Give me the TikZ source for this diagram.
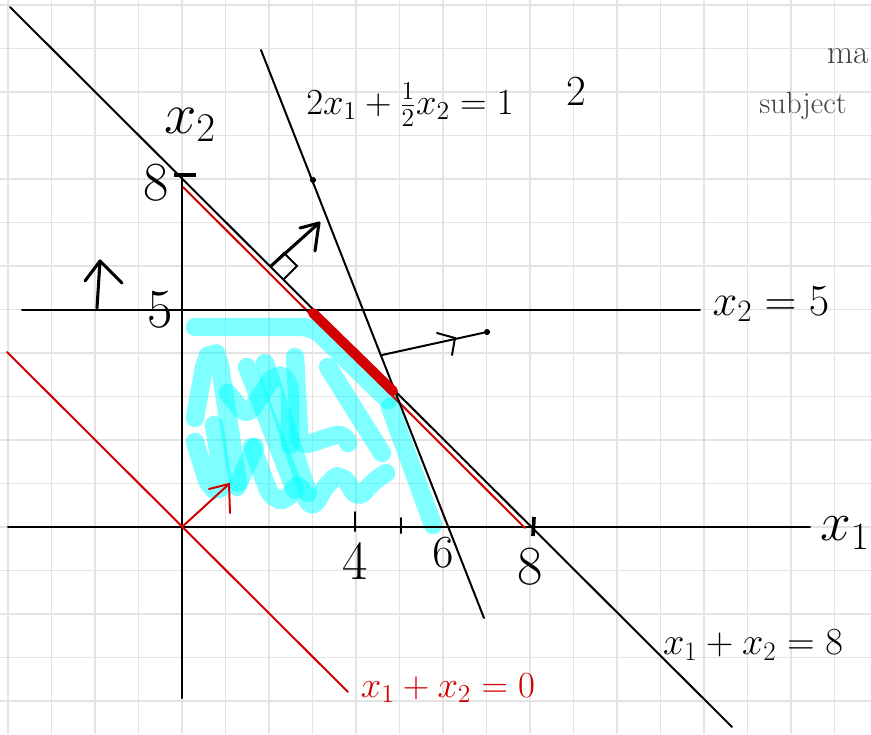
\RequirePackage{fix-cm}
\documentclass[tikz,border=0pt]{standalone}
\usetikzlibrary{arrows.meta}
\definecolor{penred}{RGB}{210,0,0}
\definecolor{hicyan}{RGB}{0,255,255}
\begin{document}
\begin{tikzpicture}[x=0.022936cm,y=-0.022936cm,
  gridline/.style={draw=black!11,line width=0.75pt},
  blk/.style={draw=black,line width=1.3pt,line cap=round},
  thickblk/.style={draw=black,line width=2pt,line cap=round,line join=round},
  redl/.style={draw=penred,line width=1.3pt,line cap=round},
  hl/.style={draw=hicyan,opacity=0.5,line width=12pt,line cap=round,line join=round,rounded corners=7pt},
  lbl/.style={inner sep=0pt,font=\fontsize{24}{28}\selectfont},
  dotm/.style={circle,fill=black,inner sep=0pt,minimum size=4pt}
]
\useasboundingbox (0,0) rectangle (871,734);
\begin{scope}
\clip (0,0) rectangle (871,734);
% grid
\foreach \i in {-4,...,16} \draw[gridline] ({182+43.5*\i},0) -- ++(0,734);
\foreach \j in {-5,...,12} \draw[gridline] (0,{527-43.5*\j}) -- ++(871,0);

% named points
\coordinate (O) at (182,527);
\coordinate (ytop) at (182,175);
\coordinate (ybot) at (182,698);
\coordinate (xl) at (8,527);
\coordinate (xr) at (810,527);
\coordinate (a1) at (10,7);
\coordinate (a2) at (732,727);
\coordinate (r1) at (183,187);
\coordinate (r2) at (525,528);
\coordinate (z1) at (7,352);
\coordinate (z2) at (348,692);
\coordinate (s1) at (261,50);
\coordinate (s2) at (484,618);
\coordinate (h1) at (22,310);
\coordinate (h2) at (700,310);
\coordinate (p1) at (313,313);
\coordinate (p2) at (393,391);

% cyan highlight scribble
\draw[hl] (195,327) -- (313,327) -- (388,400);
\draw[hl] (390,407) -- (433,525);
\draw[hl] (195,418) -- (206,356) -- (218,353) -- (238,483);
\draw[hl] (195,442) -- (210,490) -- (224,488) -- (214,425);
\draw[hl] (237,487) -- (255,447);
\draw[hl] (247,367) -- (295,490);
\draw[hl] (265,363) -- (308,493);
\draw[hl] (228,393) -- (247,417) -- (275,373) -- (290,380) -- (290,445);
\draw[hl] (295,357) -- (300,447) -- (320,440) -- (345,432) -- (348,443);
\draw[hl] (328,367) -- (382,453);
\draw[hl] (252,447) -- (272,500) -- (290,500) -- (297,480) -- (312,510) -- (328,482) -- (342,473) -- (358,500) -- (372,482) -- (386,473);

% axes
\draw[blk] (xl) -- (xr);
\draw[blk] (ytop) -- (ybot);

% lines
\draw[blk] (a1) -- (a2);
\draw[redl] (r1) -- (r2);
\draw[redl] (z1) -- (z2);
\draw[blk] (s1) -- (s2);
\draw[blk] (h1) -- (h2);

% thick red optimal segment
\draw[draw=penred,line width=6.5pt,line cap=round] (p1) -- (p2);

% dot on steep line
\node[dotm] (d1) at (313,180) {};

% normal arrow of x1+x2=8 with right angle mark
\coordinate (f) at (271,266);
\coordinate (t) at (319,223);
\draw[thickblk] (f) -- (t);
\draw[thickblk] (300,228) -- (t) -- (315,251);
\draw[blk] (f) -- (284,253) -- (297,266) -- (284,279);

% normal arrow of steep line
\coordinate (n1) at (382,355);
\node[dotm] (d2) at (487,332) {};
\draw[blk] (n1) -- (d2);
\draw[blk] (437,333) -- (455,338) -- (452,355);

% arrow on x2 = 5
\coordinate (u1) at (97,308);
\coordinate (u2) at (100,261);
\draw[thickblk] (u1) -- (u2);
\draw[thickblk] (85,281) -- (u2) -- (122,283);

% red normal arrow from origin
\coordinate (rt) at (229,484);
\draw[redl] (O) -- (rt);
\draw[redl] (209,489) -- (rt) -- (230,513);

% ticks
\draw[draw=black,line width=2.6pt] (174,175) -- (196,175);
\draw[blk] (355,512) -- (355,531);
\draw[blk] (401,518) -- (401,533);
\draw[draw=black,line width=2.4pt] (534,517) -- (533,536);

% labels
\node[lbl,font=\fontsize{38}{44}\selectfont] (lx2) at (190,125) {$x_2$};
\node[lbl,font=\fontsize{36}{42}\selectfont] (l8y) at (156,183) {$8$};
\node[lbl,font=\fontsize{36}{42}\selectfont] (l5y) at (160,310) {$5$};
\node[lbl,font=\fontsize{36}{42}\selectfont] (l4) at (355,562) {$4$};
\node[lbl,font=\fontsize{30}{36}\selectfont] (l6) at (443,553) {$6$};
\node[lbl,font=\fontsize{36}{42}\selectfont] (l8x) at (530,567) {$8$};
\node[lbl,font=\fontsize{29}{35}\selectfont] (lh) at (771,304) {$x_2=5$};
\node[lbl,font=\fontsize{36}{42}\selectfont,anchor=west] (lx1) at (820,533) {$x_1$};
\node[lbl,font=\fontsize{25}{30}\selectfont] (lsum8) at (753,645) {$x_1+x_2=8$};
\node[lbl,font=\fontsize{24}{29}\selectfont,text=penred] (lsum0) at (448,688) {$x_1+x_2=0$};
\node[lbl,font=\fontsize{24}{29}\selectfont] (lsteep) at (410,105) {$2x_1+\frac{1}{2}x_2=1$};
\node[lbl,font=\fontsize{28}{32}\selectfont] (ltwo) at (576,92) {$2$};
\node[lbl,font=\fontsize{20}{24}\selectfont,text=black!75,anchor=base] (lsub) at (803,113) {subject};
\node[lbl,font=\fontsize{22}{26}\selectfont,text=black!75,anchor=base east] (lma) at (869,63) {ma};
\end{scope}
\end{tikzpicture}
\end{document}
